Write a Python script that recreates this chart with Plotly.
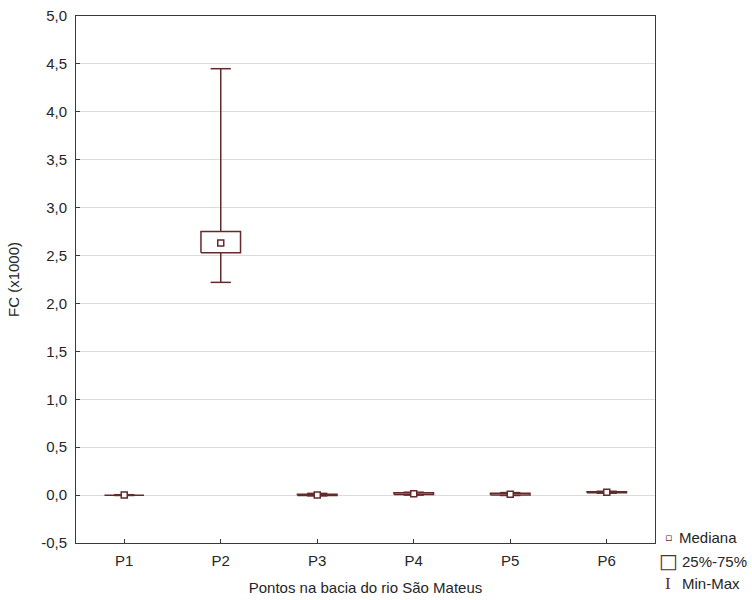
import plotly.graph_objects as go

# FC (x1000) summary statistics per sampling point
pontos = ["P1", "P2", "P3", "P4", "P5", "P6"]
minimo = [-0.004, 2.22, -0.008, 0.000, -0.004, 0.020]
q25 = [-0.002, 2.53, -0.003, 0.006, 0.000, 0.024]
mediana = [0.000, 2.63, 0.000, 0.015, 0.008, 0.030]
q75 = [0.002, 2.75, 0.010, 0.025, 0.020, 0.036]
maximo = [0.004, 4.45, 0.018, 0.030, 0.026, 0.040]

y_ticks = [-0.5, 0.0, 0.5, 1.0, 1.5, 2.0, 2.5, 3.0, 3.5, 4.0, 4.5, 5.0]
y_labels = ["-0,5", "0,0", "0,5", "1,0", "1,5", "2,0", "2,5", "3,0", "3,5", "4,0", "4,5", "5,0"]

COR = "#642a2a"
BOX_HALF = 0.205
CAP_HALF = 0.105
FONTE = "Liberation Sans, Arial"
TAM = 15
TXT = "#262626"

fig = go.Figure()

for i, nome in enumerate(pontos):
    # whisker: vertical stem plus caps at min and max
    wx = [i, i, None, i - CAP_HALF, i + CAP_HALF, None, i - CAP_HALF, i + CAP_HALF]
    wy = [minimo[i], maximo[i], None, minimo[i], minimo[i], None, maximo[i], maximo[i]]
    fig.add_trace(go.Scatter(x=wx, y=wy, mode="lines",
                             line=dict(color=COR, width=1.5),
                             showlegend=False, hoverinfo="skip"))
    # interquartile box
    bx = [i - BOX_HALF, i + BOX_HALF, i + BOX_HALF, i - BOX_HALF, i - BOX_HALF]
    by = [q25[i], q25[i], q75[i], q75[i], q25[i]]
    fig.add_trace(go.Scatter(x=bx, y=by, mode="lines", fill="toself",
                             fillcolor="white",
                             line=dict(color=COR, width=1.5),
                             showlegend=False, hoverinfo="skip"))

# median markers
fig.add_trace(go.Scatter(
    x=list(range(len(pontos))), y=mediana, mode="markers",
    marker=dict(symbol="square", size=6, color="white",
                line=dict(color=COR, width=1.5)),
    showlegend=False, name="Mediana"))

fig.update_xaxes(
    range=[-0.5, len(pontos) - 0.5],
    tickmode="array", tickvals=list(range(len(pontos))), ticktext=pontos,
    showgrid=False, zeroline=False, automargin=False,
    showline=True, mirror=True, linecolor="#3a3a3a", linewidth=1,
    ticks="inside", ticklen=4, tickcolor="#3a3a3a",
    ticklabelstandoff=4,
    tickfont=dict(family=FONTE, size=TAM, color=TXT),
    title=dict(text="Pontos na bacia do rio São Mateus",
               font=dict(family=FONTE, size=TAM, color=TXT),
               standoff=14),
)
fig.update_yaxes(
    range=[-0.5, 5.0],
    tickmode="array", tickvals=y_ticks, ticktext=y_labels,
    showgrid=True, gridcolor="#dcdcdc", gridwidth=1, zeroline=False, automargin=False,
    showline=True, mirror=True, linecolor="#3a3a3a", linewidth=1,
    ticks="inside", ticklen=4, tickcolor="#3a3a3a",
    ticklabelstandoff=5,
    tickfont=dict(family=FONTE, size=TAM, color=TXT),
    title=dict(text="FC (x1000)",
               font=dict(family=FONTE, size=TAM, color=TXT),
               standoff=17),
)

# legend drawn as text entries beside the plot area
legenda = [("\u25ab", 11, "Mediana", 677), ("\u25a1", 20, "25%-75%", 680), ("I", 17, "Min-Max", 680)]
ys = [537, 561, 583]
for (simb, tam, txt, xtxt), ypx in zip(legenda, ys):
    yy = (600 - 57 - ypx) / (600 - 57 - 16)
    fig.add_annotation(xref="paper", yref="paper", x=(668 - 76) / (655 - 76), y=yy,
                       text=simb, showarrow=False, xanchor="center", yanchor="middle",
                       font=dict(family="DejaVu Sans" if simb != "I" else "Liberation Serif",
                                 size=tam, color=COR))
    fig.add_annotation(xref="paper", yref="paper", x=(xtxt - 76) / (655 - 76), y=yy,
                       text=txt, showarrow=False, xanchor="left", yanchor="middle",
                       font=dict(family=FONTE, size=TAM, color=TXT))

fig.update_layout(
    width=752, height=600,
    margin=dict(l=76, r=97, t=16, b=57),
    plot_bgcolor="white", paper_bgcolor="white",
    showlegend=False,
)

fig.write_html("out.html")
